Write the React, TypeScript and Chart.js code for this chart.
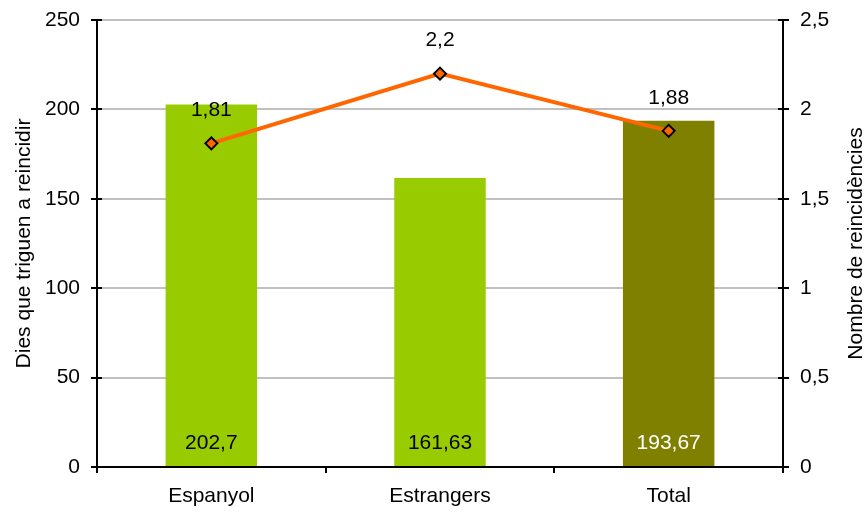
import React, { useEffect, useRef } from "react";
import { Chart, registerables } from "chart.js";

Chart.register(...registerables);

const categories = ["Espanyol", "Estrangers", "Total"];
const diesValues = [202.7, 161.63, 193.67];
const reincidValues = [1.81, 2.2, 1.88];
const barColors = ["#99CC00", "#99CC00", "#808000"];
const barLabelColors = ["#000000", "#000000", "#FFFFFF"];
const leftTitle = "Dies que triguen a reincidir";
const rightTitle = "Nombre de reincidències";

const FONT = "'Liberation Sans', Arial, sans-serif";
const FS = 21;

const fmt = (v: number) => String(v).replace(".", ",");

const decorPlugin = {
  id: "decor",
  afterDraw(chart: any) {
    const ctx = chart.ctx;
    const y = chart.scales.y;
    const y2 = chart.scales.y2;
    const x = chart.scales.x;
    const area = chart.chartArea;
    ctx.save();
    ctx.strokeStyle = "#000";
    ctx.lineWidth = 2;
    ctx.beginPath();
    y.ticks.forEach((t: any) => {
      const py = Math.round(y.getPixelForValue(t.value));
      ctx.moveTo(area.left - 6, py);
      ctx.lineTo(area.left + 5, py);
    });
    y2.ticks.forEach((t: any) => {
      const py = Math.round(y2.getPixelForValue(t.value));
      ctx.moveTo(area.right - 5, py);
      ctx.lineTo(area.right + 6, py);
    });
    for (let i = 0; i <= categories.length; i++) {
      const px = Math.round(x.getPixelForValue(i - 0.5));
      ctx.moveTo(px, area.bottom);
      ctx.lineTo(px, area.bottom + 6);
    }
    ctx.stroke();

    ctx.font = `${FS}px ${FONT}`;
    ctx.textAlign = "center";
    ctx.textBaseline = "middle";
    const barMeta = chart.getDatasetMeta(1);
    barMeta.data.forEach((el: any, i: number) => {
      ctx.fillStyle = barLabelColors[i];
      ctx.fillText(fmt(diesValues[i]), el.x, y.getPixelForValue(0) - 24);
    });
    const lineMeta = chart.getDatasetMeta(0);
    lineMeta.data.forEach((el: any, i: number) => {
      ctx.fillStyle = "#000";
      ctx.fillText(fmt(reincidValues[i]), el.x, el.y - 33);
    });

    // axis titles (both read bottom-to-top)
    const midY = (area.top + area.bottom) / 2;
    ctx.fillStyle = "#000";
    ctx.textBaseline = "alphabetic";
    ctx.save();
    ctx.translate(30, midY);
    ctx.rotate(-Math.PI / 2);
    ctx.fillText(leftTitle, 0, 0);
    ctx.restore();
    ctx.save();
    ctx.translate(862, midY);
    ctx.rotate(-Math.PI / 2);
    ctx.fillText(rightTitle, 0, 0);
    ctx.restore();
    ctx.restore();
  },
};

export default function App() {
  const ref = useRef<HTMLCanvasElement | null>(null);
  useEffect(() => {
    if (!ref.current) return;
    const chart = new Chart(ref.current, {
      type: "bar",
      data: {
        labels: categories,
        datasets: [
          {
            type: "line",
            label: "Nombre de reincidències",
            data: reincidValues,
            yAxisID: "y2",
            borderColor: "#FF6600",
            borderWidth: 4,
            pointStyle: "rectRot",
            pointRadius: 6,
            pointBackgroundColor: "#FF6600",
            pointBorderColor: "#000000",
            pointBorderWidth: 2,
            order: 0,
          } as any,
          {
            type: "bar",
            label: "Dies que triguen a reincidir",
            data: diesValues,
            yAxisID: "y",
            backgroundColor: barColors,
            barPercentage: 0.4,
            categoryPercentage: 1,
            order: 1,
          },
        ],
      },
      options: {
        animation: false,
        responsive: false,
        maintainAspectRatio: false,
        layout: { padding: { top: 20, left: 0, right: 0, bottom: 0 } },
        plugins: { legend: { display: false }, tooltip: { enabled: false } },
        font: { family: FONT, size: FS },
        scales: {
          x: {
            offset: true,
            grid: { display: false, drawTicks: false },
            border: { color: "#000", width: 2, z: 2 },
            ticks: { color: "#000", font: { family: FONT, size: FS }, padding: 17 },
            afterFit: (s: any) => { s.height = 47; s.paddingLeft = 0; s.paddingRight = 0; },
          },
          y: {
            position: "left",
            min: 0,
            max: 250,
            ticks: { stepSize: 50, color: "#000", font: { family: FONT, size: FS }, padding: 17 },
            grid: { color: "#C0C0C0", lineWidth: 2, drawTicks: false },
            border: { color: "#000", width: 2, z: 2 },
            afterFit: (s: any) => { s.width = 97; s.paddingTop = 0; s.paddingBottom = 0; },
          },
          y2: {
            position: "right",
            min: 0,
            max: 2.5,
            ticks: { stepSize: 0.5, color: "#000", font: { family: FONT, size: FS }, padding: 17, callback: (v: any) => fmt(Number(v)) },
            grid: { display: false, drawTicks: false },
            border: { color: "#000", width: 2, z: 2 },
            afterFit: (s: any) => { s.width = 82; s.paddingTop = 0; s.paddingBottom = 0; },
          },
        },
      } as any,
      plugins: [decorPlugin],
    });
    return () => chart.destroy();
  }, []);
  return (
    <div style={{ position: "absolute", left: 0, top: 0, width: 865, height: 514, background: "#fff" }}>
      <canvas ref={ref} width={865} height={514} />
    </div>
  );
}
